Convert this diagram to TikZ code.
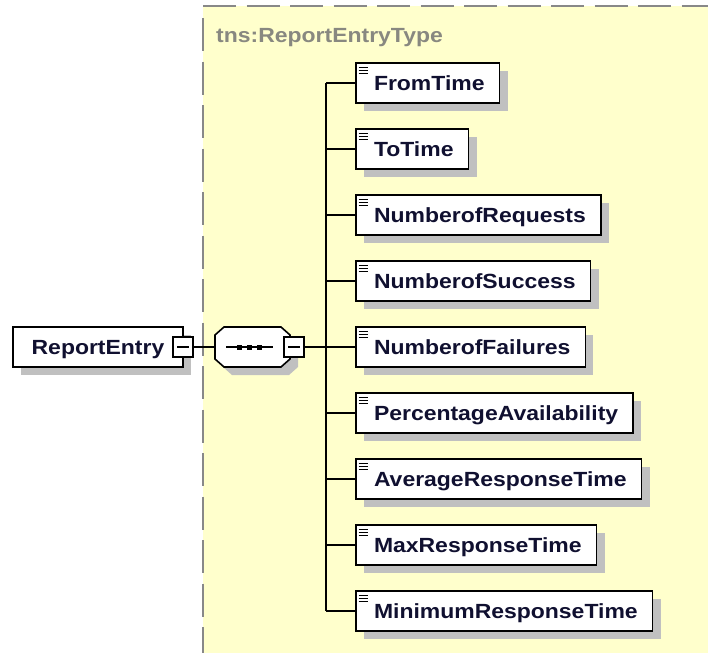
\documentclass[tikz,border=0pt]{standalone}
\usepackage{fontspec}
\usetikzlibrary{shadows}
\newfontfamily\xsfont{Liberation Sans}[FakeStretch=1.12]
\newcommand\elfont{\xsfont\bfseries\fontsize{20.5}{24}\selectfont}
\definecolor{bgyellow}{RGB}{255,255,204}
\definecolor{shadowgray}{RGB}{192,192,192}
\definecolor{dashgray}{RGB}{136,136,136}
\definecolor{txtnavy}{RGB}{16,16,48}
\definecolor{typegray}{RGB}{136,136,128}
\tikzset{
  elem/.style={draw=black, line width=1.6pt, fill=white, minimum height=40pt,
    inner xsep=0pt, inner ysep=0pt, outer sep=0pt, anchor=west,
    text height=18pt, text depth=4pt, font=\elfont, text=txtnavy,
    copy shadow={shadow xshift=8pt, shadow yshift=-8pt, fill=shadowgray, draw=none}},
  minusbox/.style={draw=black, line width=1.3pt, fill=white, minimum size=20pt,
    inner sep=0pt, outer sep=0pt,
    path picture={\draw[line width=1.3pt] ([xshift=-6pt]path picture bounding box.center) -- ([xshift=6pt]path picture bounding box.center);}},
  conn/.style={draw=black, line width=1.6pt},
  icon/.style={draw=black, line width=1.2pt},
  border/.style={draw=dashgray, line width=2pt, dash pattern=on 33pt off 10.5pt}
}
\begin{document}
\begin{tikzpicture}[x=1pt,y=-1pt]
\useasboundingbox (0,0) rectangle (708,653);
% type area
\fill[bgyellow] (203,6) rectangle (708,653);
\draw[border] (203,6) -- (708,6);
\draw[border] (203,18) -- (203,653);
\node[anchor=base west, inner sep=0pt, font=\elfont, text=typegray] (typelbl) at (216,42) {tns:ReportEntryType};

% root element
\node[elem, minimum width=170pt, anchor=west] (root) at (13,347) {ReportEntry};
\node[minusbox] (rm) at (183,347) {};

% sequence compositor
\coordinate (seqL) at (215,347);
\fill[shadowgray, shift={(8,8)}] (215,335) -- (224,327) -- (281,327) -- (290,335) -- (290,359) -- (281,367) -- (224,367) -- (215,359) -- cycle;
\draw[line width=1.6pt, fill=white] (215,335) -- (224,327) -- (281,327) -- (290,335) -- (290,359) -- (281,367) -- (224,367) -- (215,359) -- cycle;
\draw[line width=1.5pt] (226,347) -- (273,347);
\fill (237,344.5) rectangle +(5,5);
\fill (247,344.5) rectangle +(5,5);
\fill (257,344.5) rectangle +(5,5);
\node[minusbox] (sm) at (294,347) {};
\draw[conn] (rm.east) -- (seqL);

% children
\node[elem] (c1) at (356,83)  {\hspace*{18pt}FromTime\hspace*{15pt}};
\node[elem] (c2) at (356,149) {\hspace*{18pt}ToTime\hspace*{15pt}};
\node[elem] (c3) at (356,215) {\hspace*{18pt}NumberofRequests\hspace*{15pt}};
\node[elem] (c4) at (356,281) {\hspace*{18pt}NumberofSuccess\hspace*{15pt}};
\node[elem] (c5) at (356,347) {\hspace*{18pt}NumberofFailures\hspace*{15pt}};
\node[elem] (c6) at (356,413) {\hspace*{18pt}PercentageAvailability\hspace*{15pt}};
\node[elem] (c7) at (356,479) {\hspace*{18pt}AverageResponseTime\hspace*{15pt}};
\node[elem] (c8) at (356,545) {\hspace*{18pt}MaxResponseTime\hspace*{15pt}};
\node[elem] (c9) at (356,611) {\hspace*{18pt}MinimumResponseTime\hspace*{15pt}};

% trunk
\coordinate (tr) at (326,347);
\draw[conn] (sm.east) -- (tr);
\draw[conn] (c1.west -| tr) -- (c9.west -| tr);
\foreach \n in {c1,c2,c3,c4,c5,c6,c7,c8,c9} {
  \draw[conn] (\n.west -| tr) -- (\n.west);
  \foreach \dy in {4.5,7.5,10.5}
    \draw[icon] ([xshift=2.5pt,yshift=-\dy pt]\n.north west) -- ++(9,0);
}
\end{tikzpicture}
\end{document}
